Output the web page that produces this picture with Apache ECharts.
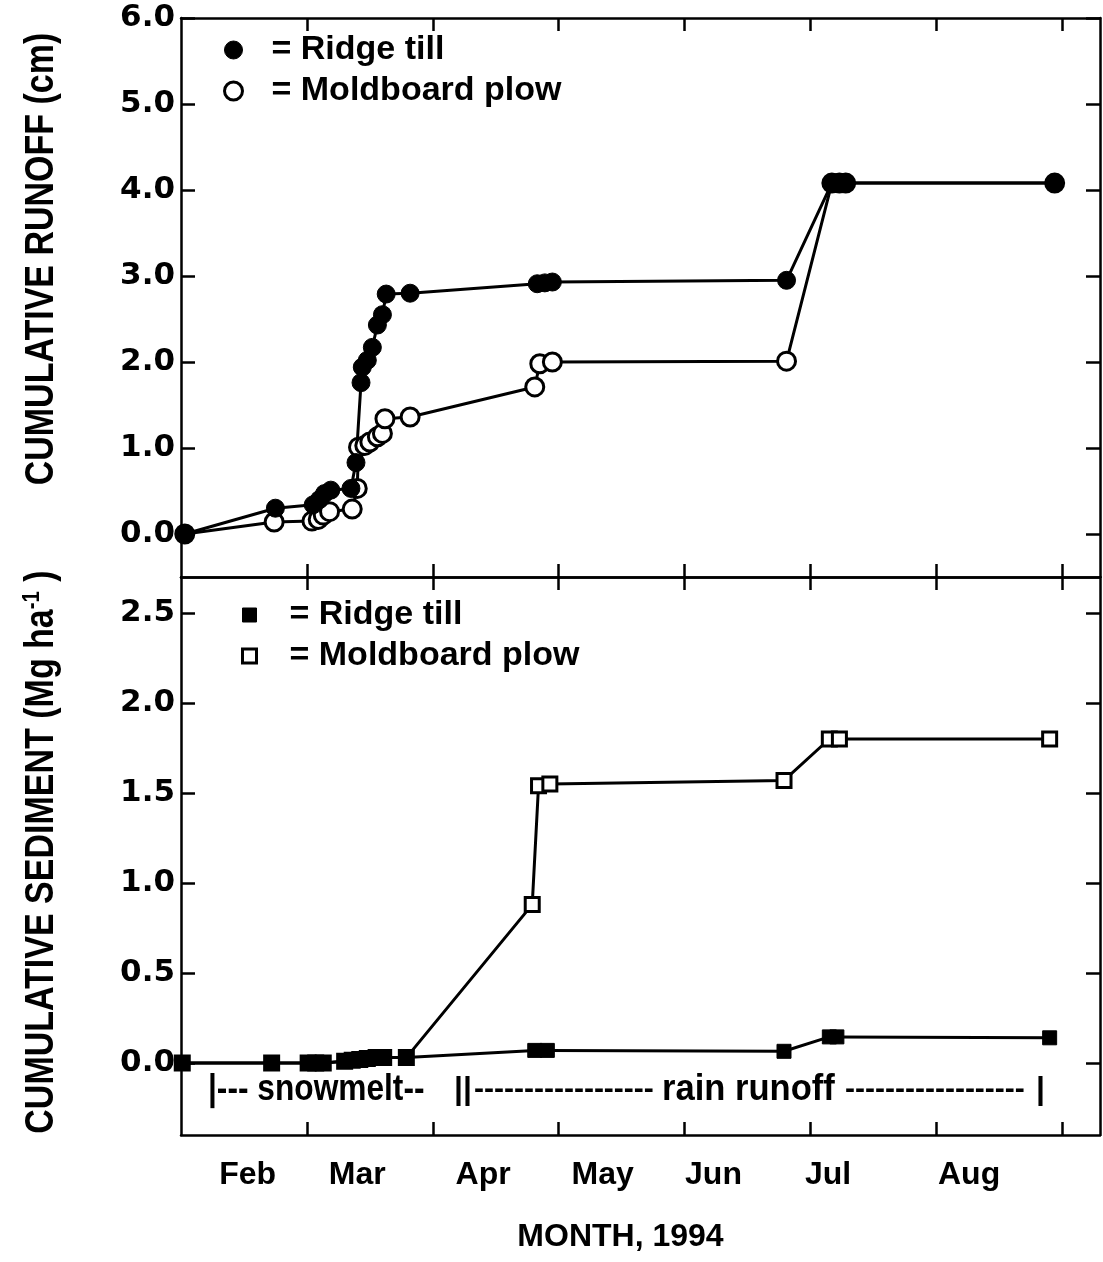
<!DOCTYPE html>
<html>
<head>
<meta charset="utf-8">
<script src="https://cdn.jsdelivr.net/npm/echarts@6/dist/echarts.min.js"></script>
<style>
  html, body { margin: 0; padding: 0; background: #fff; }
  #chart { width: 1103px; height: 1262px; }
</style>
</head>
<body>
<div id="chart"></div>
<script>
// ---------- DATA (x in months since start of Feb, 1994) ----------
const monthNames = ['Feb', 'Mar', 'Apr', 'May', 'Jun', 'Jul', 'Aug'];
const monthTicks = [1, 2, 3, 4, 5, 6, 7];
const runoffTicks = [0, 1, 2, 3, 4, 5, 6];
const sedimentTicks = [0, 0.5, 1.0, 1.5, 2.0, 2.5];

const runoffRidgeX = [0.03, 0.75, 1.05, 1.10, 1.14, 1.19, 1.35, 1.39, 1.43, 1.44, 1.48, 1.52, 1.56, 1.60, 1.63, 1.82, 2.83, 2.89, 2.95, 4.81, 5.17, 5.23, 5.28, 6.94];
const runoffRidgeY = [0.00, 0.30, 0.34, 0.40, 0.47, 0.51, 0.53, 0.83, 1.76, 1.94, 2.02, 2.17, 2.43, 2.55, 2.79, 2.80, 2.91, 2.92, 2.93, 2.95, 4.08, 4.08, 4.08, 4.08];

const runoffPlowX = [0.03, 0.74, 1.04, 1.09, 1.13, 1.18, 1.36, 1.40, 1.41, 1.46, 1.50, 1.56, 1.60, 1.62, 1.82, 2.81, 2.85, 2.95, 4.81, 5.17, 5.23, 5.28, 6.94];
const runoffPlowY = [0.00, 0.14, 0.15, 0.17, 0.22, 0.26, 0.29, 0.53, 1.01, 1.03, 1.07, 1.13, 1.17, 1.34, 1.36, 1.71, 1.98, 2.00, 2.01, 4.08, 4.08, 4.08, 4.08];

const sedRidgeX = [0.01, 0.72, 1.01, 1.07, 1.13, 1.30, 1.36, 1.42, 1.48, 1.55, 1.61, 1.79, 2.81, 2.91, 4.79, 5.15, 5.21, 6.90];
const sedRidgeY = [0.00, 0.00, 0.00, 0.00, 0.00, 0.01, 0.015, 0.02, 0.025, 0.03, 0.03, 0.03, 0.07, 0.07, 0.065, 0.145, 0.145, 0.14];

const sedPlowX = [0.01, 0.72, 1.01, 1.07, 1.13, 1.30, 1.36, 1.42, 1.48, 1.55, 1.61, 1.79, 2.79, 2.84, 2.93, 4.79, 5.15, 5.23, 6.90];
const sedPlowY = [0.00, 0.00, 0.00, 0.00, 0.00, 0.01, 0.015, 0.02, 0.025, 0.03, 0.03, 0.03, 0.88, 1.54, 1.55, 1.57, 1.80, 1.80, 1.80];

// ---------- LAYOUT ----------
const monthLabelPos = [0.53, 1.40, 2.40, 3.35, 4.23, 5.14, 6.26];
const zip = (xs, ys) => xs.map((x, i) => [x, ys[i]]);

const BOLD = 'bold';
const LAB_FONT = "'DejaVu Sans', sans-serif";
const SANS = "'Liberation Sans', Arial, sans-serif";
const AXW = 2.5;
const LW = 3;

function xAx(gridIndex, position, showLabels) {
  const a = {
    type: 'value', gridIndex, position, min: 0, max: 7.3,
    axisLine: { show: true, onZero: false, lineStyle: { color: '#000', width: AXW } },
    axisTick: { show: true, inside: true, length: 13, customValues: monthTicks, lineStyle: { color: '#000', width: AXW } },
    splitLine: { show: false },
    axisLabel: { show: false }
  };
  if (showLabels) {
    a.axisLabel = {
      show: true, customValues: monthLabelPos, margin: 24,
      fontFamily: SANS, fontWeight: BOLD, fontSize: 32, color: '#000',
      formatter: (v) => {
        let best = 0;
        monthLabelPos.forEach((p, i) => { if (Math.abs(p - v) < Math.abs(monthLabelPos[best] - v)) best = i; });
        return monthNames[best];
      }
    };
    a.name = 'MONTH, 1994';
    a.nameLocation = 'middle';
    a.nameGap = 86;
    a.nameTextStyle = { fontFamily: SANS, fontWeight: BOLD, fontSize: 32, color: '#000', padding: [0, 40, 0, 0] };
  }
  return a;
}

function yAx(gridIndex, position, min, max, ticks, showLabels) {
  return {
    type: 'value', gridIndex, position, min, max,
    axisLine: { show: true, onZero: false, lineStyle: { color: '#000', width: AXW } },
    axisTick: { show: true, inside: true, length: 14, customValues: ticks, lineStyle: { color: '#000', width: AXW } },
    splitLine: { show: false },
    axisLabel: {
      show: showLabels, customValues: ticks, margin: 6,
      fontFamily: LAB_FONT, fontWeight: BOLD, fontSize: 31, color: '#000',
      formatter: (v) => v.toFixed(1)
    }
  };
}

const filled = { color: '#000', borderColor: '#000', borderWidth: 1 };
const hollow = { color: '#fff', borderColor: '#000', borderWidth: 3 };
const legendText = { fontFamily: SANS, fontWeight: BOLD, fontSize: 34, color: '#000', lineHeight: 34, padding: [0, 0, 0, 24] };

const option = {
  animation: false,
  backgroundColor: '#fff',
  grid: [
    { left: 181, right: 3, top: 18, height: 559 },
    { left: 181, right: 3, top: 577, height: 558 }
  ],
  xAxis: [
    xAx(0, 'bottom', false),
    xAx(0, 'top', false),
    xAx(1, 'bottom', true),
    xAx(1, 'top', false)
  ],
  yAxis: [
    yAx(0, 'left', -0.5, 6, runoffTicks, true),
    yAx(0, 'right', -0.5, 6, runoffTicks, false),
    yAx(1, 'left', -0.4, 2.7, sedimentTicks, true),
    yAx(1, 'right', -0.4, 2.7, sedimentTicks, false)
  ],
  legend: [
    {
      left: 218, top: 28, orient: 'vertical', itemGap: 7,
      itemWidth: 18, itemHeight: 18, selectedMode: false,
      textStyle: legendText,
      formatter: (n) => '= ' + n.replace(/ \(.*\)$/, ''),
      data: [
        { name: 'Ridge till (runoff)', icon: 'circle', itemStyle: filled },
        { name: 'Moldboard plow (runoff)', icon: 'circle', itemStyle: hollow }
      ]
    },
    {
      left: 236, top: 593, orient: 'vertical', itemGap: 7,
      itemWidth: 14, itemHeight: 14, selectedMode: false,
      textStyle: Object.assign({}, legendText, { padding: [0, 0, 0, 28] }),
      formatter: (n) => '= ' + n.replace(/ \(.*\)$/, ''),
      data: [
        { name: 'Ridge till (sediment)', icon: 'rect', itemStyle: filled },
        { name: 'Moldboard plow (sediment)', icon: 'rect', itemStyle: hollow }
      ]
    }
  ],
  graphic: [
    {
      type: 'text', x: 42, y: 259, rotation: Math.PI / 2, scaleX: 0.85,
      style: { text: 'CUMULATIVE RUNOFF (cm)', fill: '#000', font: "bold 40px " + SANS, align: 'center', verticalAlign: 'middle' }
    },
    {
      type: 'text', x: 42, y: 852, rotation: Math.PI / 2, scaleX: 0.85,
      style: {
        text: 'CUMULATIVE SEDIMENT (Mg ha{sup|-1} )', fill: '#000', font: "bold 40px " + SANS,
        align: 'center', verticalAlign: 'middle',
        rich: { sup: { fontSize: 24, fontWeight: 'bold', fontFamily: SANS, verticalAlign: 'top', padding: [0, 0, 20, 0] } }
      }
    },
    { type: 'text', x: 208, y: 1090, scaleX: 0.88, style: { text: '|--- snowmelt--', fill: '#000', font: "bold 36px " + SANS, verticalAlign: 'middle' } },
    { type: 'text', x: 454, y: 1090, style: { text: '||', fill: '#000', font: "bold 32px " + SANS, verticalAlign: 'middle' } },
    { type: 'text', x: 474, y: 1090, style: { text: '------------------', fill: '#000', font: "bold 30px " + SANS, verticalAlign: 'middle' } },
    { type: 'text', x: 662, y: 1090, scaleX: 0.96, style: { text: 'rain runoff', fill: '#000', font: "bold 36px " + SANS, verticalAlign: 'middle' } },
    { type: 'text', x: 845, y: 1090, style: { text: '------------------', fill: '#000', font: "bold 30px " + SANS, verticalAlign: 'middle' } },
    { type: 'text', x: 1036, y: 1090, style: { text: '|', fill: '#000', font: "bold 32px " + SANS, verticalAlign: 'middle' } }
  ],
  series: [
    {
      name: 'Moldboard plow (runoff)', type: 'line', xAxisIndex: 0, yAxisIndex: 0,
      data: zip(runoffPlowX, runoffPlowY), symbol: 'circle', symbolSize: 18,
      lineStyle: { color: '#000', width: LW }, itemStyle: hollow
    },
    {
      name: 'Ridge till (runoff)', type: 'line', xAxisIndex: 0, yAxisIndex: 0,
      data: zip(runoffRidgeX, runoffRidgeY), symbol: 'circle', symbolSize: 18,
      lineStyle: { color: '#000', width: LW }, itemStyle: filled
    },
    {
      name: 'Moldboard plow (sediment)', type: 'line', xAxisIndex: 2, yAxisIndex: 2,
      data: zip(sedPlowX, sedPlowY), symbol: 'rect', symbolSize: 14,
      lineStyle: { color: '#000', width: LW }, itemStyle: hollow
    },
    {
      name: 'Ridge till (sediment)', type: 'line', xAxisIndex: 2, yAxisIndex: 2,
      data: zip(sedRidgeX, sedRidgeY), symbol: 'rect', symbolSize: 14,
      lineStyle: { color: '#000', width: LW }, itemStyle: filled
    }
  ]
};

const chart = echarts.init(document.getElementById('chart'), null, { renderer: 'canvas' });
chart.setOption(option);
</script>
</body>
</html>
